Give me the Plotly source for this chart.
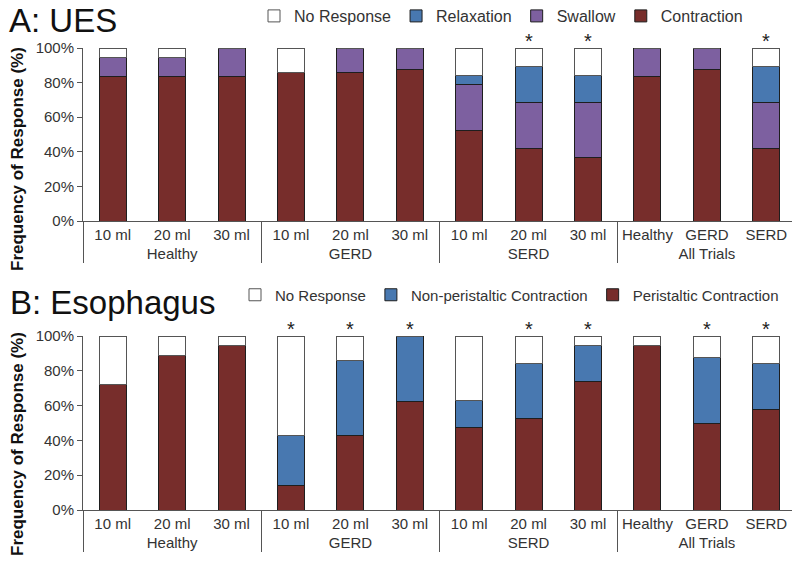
import plotly.graph_objects as go

# ---------------- data ----------------
groups = ["Healthy"] * 3 + ["GERD"] * 3 + ["SERD"] * 3 + ["All Trials"] * 3
cats = ["10 ml", "20 ml", "30 ml"] * 3 + ["Healthy", "GERD", "SERD"]

# Panel A: UES (percent)
ues_contraction = [83.3, 83.3, 83.3, 85.7, 85.7, 87.5, 52.6, 42.1, 36.8, 83.3, 87.5, 42.1]
ues_swallow     = [11.1, 11.1, 16.7, 0.0, 14.3, 12.5, 26.3, 26.3, 31.6, 16.7, 12.5, 26.3]
ues_relaxation  = [0.0, 0.0, 0.0, 0.0, 0.0, 0.0, 5.3, 21.1, 15.8, 0.0, 0.0, 21.1]
ues_noresp      = [5.6, 5.6, 0.0, 14.3, 0.0, 0.0, 15.8, 10.5, 15.8, 0.0, 0.0, 10.5]
ues_sig         = [0, 0, 0, 0, 0, 0, 0, 1, 1, 0, 0, 1]

# Panel B: Esophagus (percent)
eso_peristaltic = [72.2, 88.9, 94.4, 14.3, 42.9, 62.5, 47.4, 52.6, 73.7, 94.4, 50.0, 57.9]
eso_nonperist   = [0.0, 0.0, 0.0, 28.6, 42.9, 37.5, 15.8, 31.6, 21.1, 0.0, 37.5, 26.3]
eso_noresp      = [27.8, 11.1, 5.6, 57.1, 14.2, 0.0, 36.8, 15.8, 5.2, 5.6, 12.5, 15.8]
eso_sig         = [0, 0, 0, 1, 1, 1, 0, 1, 1, 0, 1, 1]

y_ticks = [0, 20, 40, 60, 80, 100]
y_ticktext = [f"{v}%" for v in y_ticks]

# ---------------- styling ----------------
RED = "#772D2B"
BLUE = "#4878B0"
PURPLE = "#7D60A0"
WHITE = "#FFFFFF"
FONT = "Liberation Sans, Arial, sans-serif"
TXT = "#333333"

# the page body has an 8px margin, so the figure is sized to fill the rest of the window
OFF = 8
W, H = 800 - OFF, 570 - OFF
def px(x):
    return (x - OFF) / W
def py(y):
    return 1 - (y - OFF) / H

x_mc = [groups, cats]

fig = go.Figure()

def add_bar(vals, name, color, line, xa, ya, legend):
    fig.add_trace(go.Bar(
        x=x_mc, y=vals, name=name, xaxis=xa, yaxis=ya, legend=legend,
        marker=dict(color=color, line=dict(color=line, width=1)),
        hoverinfo="skip",
    ))

add_bar(ues_contraction, "Contraction", RED, "#1E1E1E", "x", "y", "legend")
add_bar(ues_swallow, "Swallow", PURPLE, "#1E1E1E", "x", "y", "legend")
add_bar(ues_relaxation, "Relaxation", BLUE, "#1E1E1E", "x", "y", "legend")
add_bar(ues_noresp, "No Response", WHITE, "#555555", "x", "y", "legend")

add_bar(eso_peristaltic, "Peristaltic Contraction", RED, "#1E1E1E", "x2", "y2", "legend2")
add_bar(eso_nonperist, "Non-peristaltic Contraction", BLUE, "#1E1E1E", "x2", "y2", "legend2")
add_bar(eso_noresp, "No Response", WHITE, "#555555", "x2", "y2", "legend2")

annotations = []
# significance asterisks (category index positions on the multicategory axes)
for i, s in enumerate(ues_sig):
    if s:
        annotations.append(dict(text="*", x=i, y=100, xref="x", yref="y", yanchor="bottom",
                                yshift=-6, showarrow=False,
                                font=dict(size=20, color="#222", family=FONT)))
for i, s in enumerate(eso_sig):
    if s:
        annotations.append(dict(text="*", x=i, y=100, xref="x2", yref="y2", yanchor="bottom",
                                yshift=-6, showarrow=False,
                                font=dict(size=20, color="#222", family=FONT)))

annotations += [
    dict(text="A: UES", x=px(8), y=py(21), xref="paper", yref="paper", borderpad=0,
         xanchor="left", yanchor="middle", showarrow=False,
         font=dict(size=33, color="#111", family=FONT)),
    dict(text="B: Esophagus", x=px(8), y=py(302), xref="paper", yref="paper",
         xanchor="left", yanchor="middle", showarrow=False,
         font=dict(size=33, color="#111", family=FONT)),
    dict(text="<b>Frequency of Response (%)</b>", x=px(18), y=py(159), xref="paper",
         yref="paper", xanchor="center", yanchor="middle", showarrow=False, textangle=-90,
         font=dict(size=17, color="#111", family=FONT)),
    dict(text="<b>Frequency of Response (%)</b>", x=px(18), y=py(444), xref="paper",
         yref="paper", xanchor="center", yanchor="middle", showarrow=False, textangle=-90,
         font=dict(size=17, color="#111", family=FONT)),
]

xdom = [px(83), px(796)]
common_x = dict(
    type="multicategory", domain=xdom, showline=True, linecolor="#555", linewidth=1,
    ticks="", showgrid=False, showdividers=True, dividercolor="#555", dividerwidth=1,
    tickangle=0, automargin=False,
    tickfont=dict(size=15, color=TXT, family=FONT),
)
common_y = dict(
    range=[0, 100], tickmode="array", tickvals=y_ticks, ticktext=y_ticktext,
    showline=True, linecolor="#555", linewidth=1, ticks="outside", ticklen=5,
    tickcolor="#555", showgrid=False, zeroline=False, automargin=False,
    tickfont=dict(size=15, color=TXT, family=FONT),
)

fig.update_layout(
    width=W, height=H,
    margin=dict(l=0, r=0, t=0, b=0, autoexpand=False),
    paper_bgcolor="white", plot_bgcolor="white",
    font=dict(family=FONT, color=TXT),
    barmode="stack", bargap=0.545,
    xaxis=dict(anchor="y", **common_x),
    yaxis=dict(anchor="x", domain=[py(221), py(48)], **common_y),
    xaxis2=dict(anchor="y2", **common_x),
    yaxis2=dict(anchor="x2", domain=[py(510), py(336)], **common_y),
    legend=dict(orientation="h", x=px(254), xanchor="left", y=py(16), yanchor="middle",
                traceorder="reversed", font=dict(size=16, color=TXT, family=FONT),
                bgcolor="rgba(0,0,0,0)"),
    legend2=dict(orientation="h", x=px(235), xanchor="left", y=py(295), yanchor="middle",
                 traceorder="reversed", font=dict(size=15, color=TXT, family=FONT),
                 bgcolor="rgba(0,0,0,0)"),
    annotations=annotations,
)

fig.write_html("out.html")
